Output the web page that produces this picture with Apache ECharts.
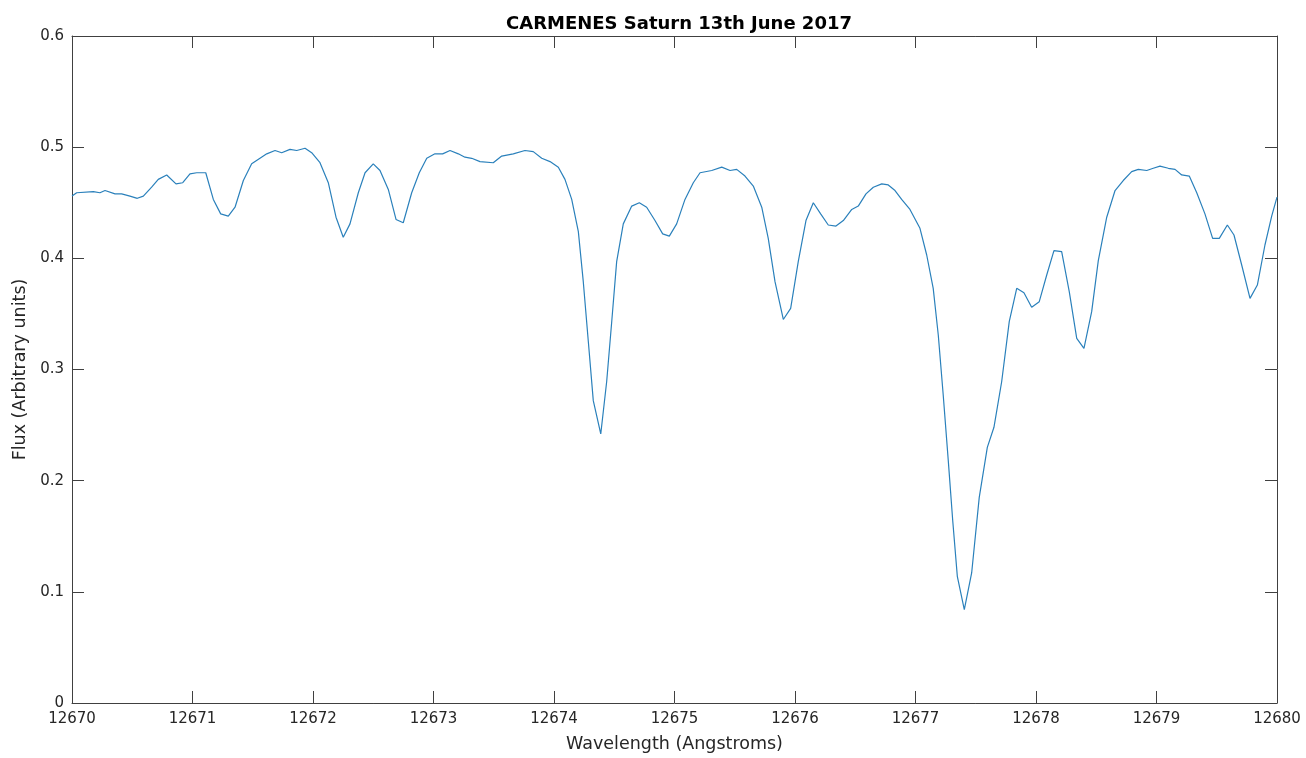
<!DOCTYPE html>
<html>
<head>
<meta charset="utf-8">
<script src="https://cdn.jsdelivr.net/npm/echarts@6/dist/echarts.min.js"></script>
<style>
  html, body { margin: 0; padding: 0; background: #fff; }
  #chart { width: 1306px; height: 758px; }
</style>
</head>
<body>
<div id="chart"></div>
<script>
// Wavelength offsets from 12670 Å and the measured flux at each sample
const wavelengthOffset = [
  0.000, 0.039, 0.177, 0.232, 0.274, 0.357, 0.412, 0.481, 0.542, 0.592,
  0.661, 0.716, 0.786, 0.863, 0.919, 0.979, 1.035, 1.110, 1.173, 1.234,
  1.297, 1.353, 1.422, 1.491, 1.560, 1.616, 1.685, 1.740, 1.809, 1.865,
  1.934, 1.989, 2.058, 2.127, 2.191, 2.251, 2.307, 2.376, 2.432, 2.500,
  2.556, 2.625, 2.689, 2.749, 2.819, 2.882, 2.944, 3.012, 3.076, 3.137,
  3.206, 3.261, 3.317, 3.386, 3.496, 3.566, 3.662, 3.759, 3.828, 3.898,
  3.967, 4.036, 4.091, 4.147, 4.202, 4.243, 4.285, 4.326, 4.388, 4.437,
  4.479, 4.520, 4.575, 4.645, 4.708, 4.769, 4.838, 4.902, 4.957, 5.018,
  5.087, 5.156, 5.212, 5.309, 5.392, 5.461, 5.516, 5.585, 5.654, 5.724,
  5.778, 5.834, 5.903, 5.964, 6.027, 6.091, 6.152, 6.213, 6.276, 6.340,
  6.401, 6.471, 6.525, 6.589, 6.650, 6.720, 6.774, 6.830, 6.885, 6.954,
  7.037, 7.093, 7.147, 7.189, 7.230, 7.272, 7.309, 7.347, 7.405, 7.466,
  7.529, 7.596, 7.651, 7.715, 7.778, 7.840, 7.900, 7.964, 8.027, 8.089,
  8.149, 8.213, 8.276, 8.338, 8.398, 8.462, 8.517, 8.587, 8.656, 8.724,
  8.794, 8.849, 8.919, 8.973, 9.029, 9.098, 9.154, 9.209, 9.272, 9.334,
  9.402, 9.466, 9.521, 9.588, 9.643, 9.707, 9.776, 9.837, 9.900, 9.956,
  10.000
];
const flux = [
  0.456, 0.459, 0.460, 0.459, 0.461, 0.458, 0.458, 0.456, 0.454, 0.456,
  0.464, 0.471, 0.475, 0.467, 0.468, 0.476, 0.477, 0.477, 0.453, 0.440,
  0.438, 0.446, 0.470, 0.485, 0.490, 0.494, 0.497, 0.495, 0.498, 0.497,
  0.499, 0.495, 0.486, 0.468, 0.437, 0.419, 0.431, 0.459, 0.477, 0.485,
  0.479, 0.462, 0.435, 0.432, 0.459, 0.477, 0.490, 0.494, 0.494, 0.497,
  0.494, 0.491, 0.490, 0.487, 0.486, 0.492, 0.494, 0.497, 0.496, 0.490,
  0.487, 0.482, 0.471, 0.453, 0.424, 0.379, 0.325, 0.272, 0.242, 0.289,
  0.343, 0.397, 0.431, 0.447, 0.450, 0.446, 0.434, 0.422, 0.420, 0.431,
  0.453, 0.468, 0.477, 0.479, 0.482, 0.479, 0.480, 0.474, 0.465, 0.446,
  0.418, 0.379, 0.345, 0.355, 0.397, 0.434, 0.450, 0.440, 0.430, 0.429,
  0.434, 0.444, 0.447, 0.458, 0.464, 0.467, 0.466, 0.461, 0.453, 0.444,
  0.427, 0.403, 0.373, 0.331, 0.277, 0.218, 0.164, 0.114, 0.084, 0.117,
  0.185, 0.230, 0.248, 0.289, 0.343, 0.373, 0.369, 0.356, 0.361, 0.385,
  0.407, 0.406, 0.370, 0.328, 0.319, 0.352, 0.398, 0.437, 0.461, 0.470,
  0.478, 0.480, 0.479, 0.481, 0.483, 0.481, 0.480, 0.475, 0.474, 0.459,
  0.440, 0.418, 0.418, 0.430, 0.421, 0.394, 0.364, 0.376, 0.412, 0.438,
  0.455
];
const baseWavelength = 12670;
const xRange = [12670, 12680];
const yRange = [0, 0.6];

const points = wavelengthOffset.map((d, i) => [baseWavelength + d, flux[i]]);

const axisColor = '#404040';
const textColor = '#262626';
const font = 'DejaVu Sans';

const chart = echarts.init(document.getElementById('chart'), null, { renderer: 'canvas' });

// Axis lines on all four sides with inward ticks, forming a closed box
const boxAxis = (extra) => Object.assign({
  axisLine: { show: true, onZero: false, lineStyle: { color: axisColor, width: 1 } },
  axisTick: { show: true, inside: true, length: 12, lineStyle: { color: axisColor } },
  splitLine: { show: false }
}, extra);

chart.setOption({
  animation: false,
  backgroundColor: '#ffffff',
  title: {
    text: 'CARMENES Saturn 13th June 2017',
    left: 674, top: 10, textAlign: 'center',
    textStyle: { fontFamily: font, fontSize: 18, fontWeight: 'bold', color: '#000' }
  },
  grid: { left: 72, right: 29, top: 36, bottom: 51 },
  xAxis: [
    boxAxis({
      type: 'value', min: xRange[0], max: xRange[1], interval: 1, position: 'bottom',
      name: 'Wavelength (Angstroms)', nameLocation: 'middle', nameGap: 32,
      nameTextStyle: { fontFamily: font, fontSize: 17.5, color: textColor },
      axisLabel: { fontFamily: font, fontSize: 15, color: textColor, margin: 9,
        formatter: v => String(Math.round(v)) }
    }),
    boxAxis({
      type: 'value', min: xRange[0], max: xRange[1], interval: 1, position: 'top',
      axisLabel: { show: false }
    })
  ],
  yAxis: [
    boxAxis({
      type: 'value', min: yRange[0], max: yRange[1], interval: 0.1, position: 'left',
      name: 'Flux (Arbitrary units)', nameLocation: 'middle', nameGap: 38,
      nameTextStyle: { fontFamily: font, fontSize: 17.5, color: textColor },
      axisLabel: { fontFamily: font, fontSize: 15, color: textColor, margin: 8,
        formatter: v => (v === 0 ? '0' : v.toFixed(1)) }
    }),
    boxAxis({
      type: 'value', min: yRange[0], max: yRange[1], interval: 0.1, position: 'right',
      axisLabel: { show: false }
    })
  ],
  series: [{
    type: 'line',
    data: points,
    xAxisIndex: 0, yAxisIndex: 0,
    showSymbol: false,
    lineStyle: { color: '#2a80bb', width: 1.2 },
    silent: true
  }]
});
</script>
</body>
</html>
